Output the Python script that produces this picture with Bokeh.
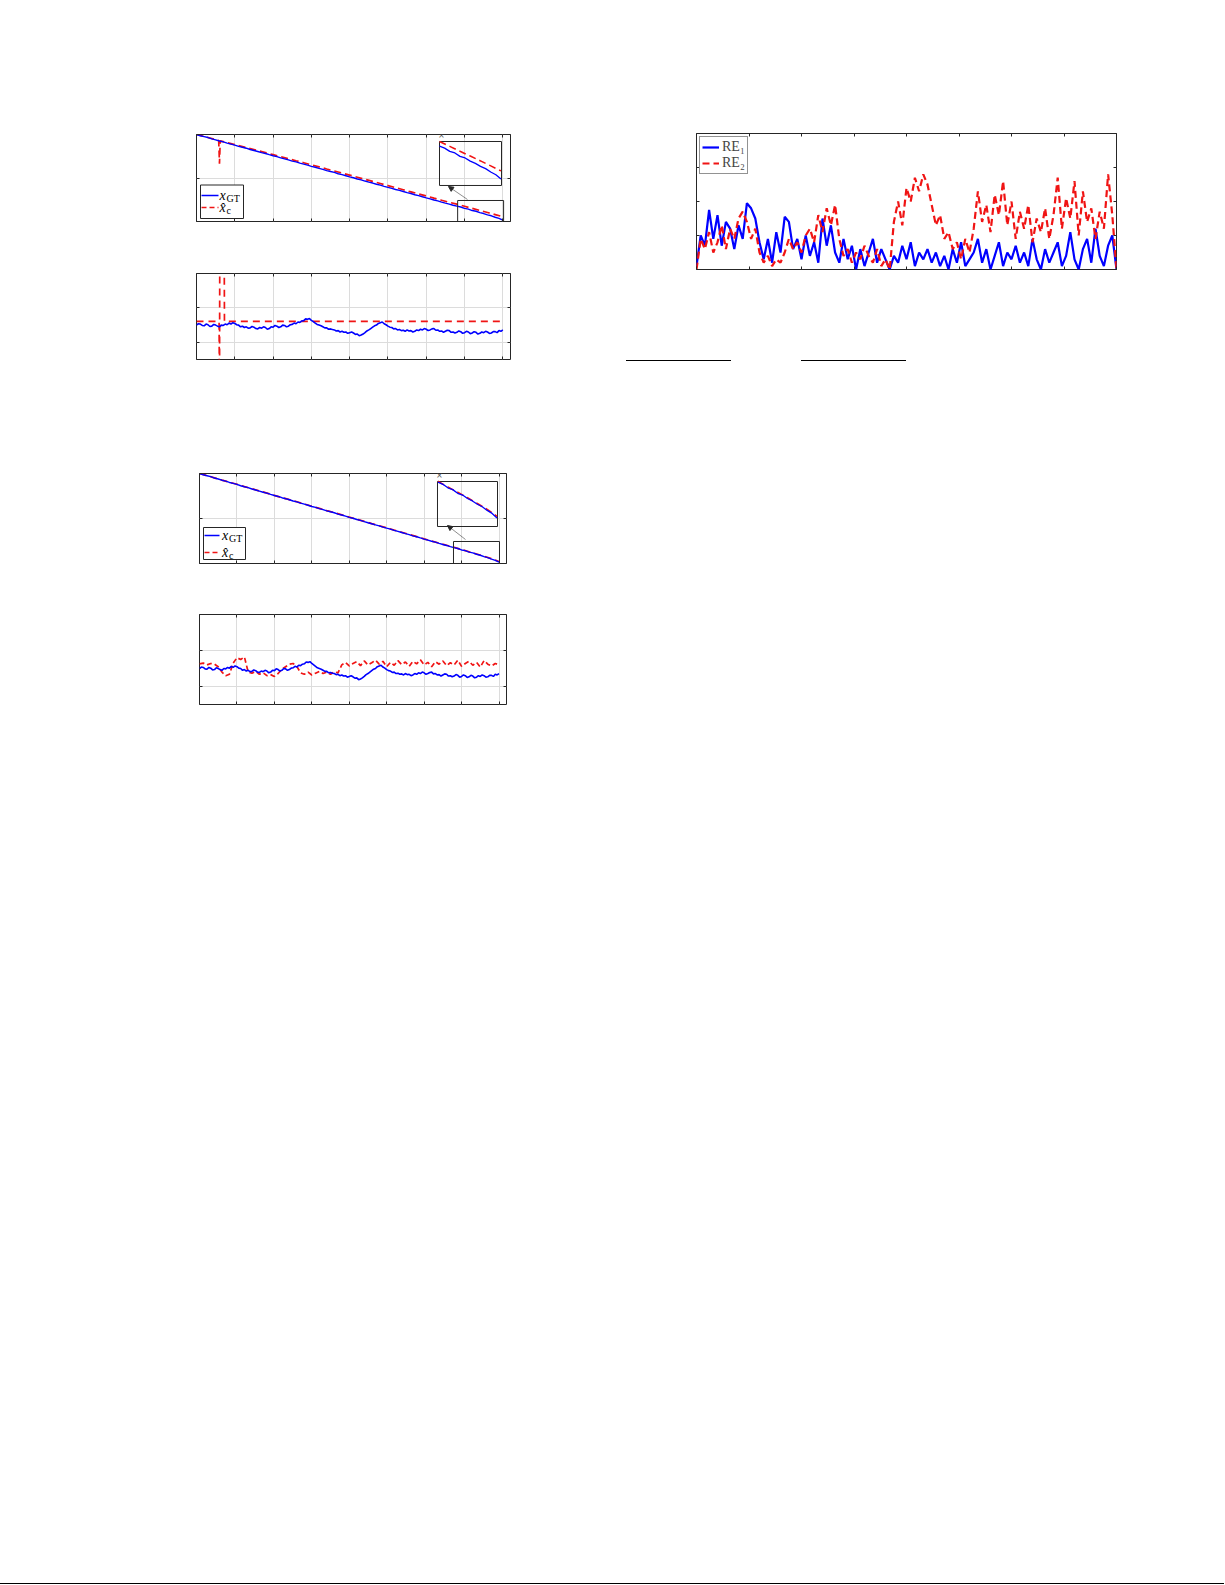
import numpy as np
from bokeh.plotting import figure
from bokeh.models import (Range1d, FixedTicker, LinearAxis, CustomJSTickFormatter,
                          Label, Arrow, NormalHead, Spacer, Div, Legend, LegendItem)
from bokeh.layouts import row, column
from bokeh.embed import file_html
from bokeh.resources import INLINE
from bokeh.core.properties import value

BLUE = "#0000ff"
RED = "#f01414"
GRID = "#dcdcdc"
SERIF = "Liberation Serif"

# ---------------- data ----------------
# position trajectories (plots 1 and 3)
T_POS = list(range(0, 81))
X_GT = [2.000, 1.972, 1.951, 1.930, 1.899, 1.878, 1.851, 1.830, 1.801, 1.779,
        1.757, 1.728, 1.706, 1.685, 1.655, 1.633, 1.610, 1.583, 1.563, 1.536,
        1.511, 1.490, 1.462, 1.440, 1.416, 1.389, 1.370, 1.341, 1.318, 1.295,
        1.267, 1.247, 1.220, 1.198, 1.171, 1.149, 1.128, 1.098, 1.078, 1.052,
        1.026, 1.006, 0.977, 0.957, 0.930, 0.906, 0.884, 0.857, 0.836, 0.809,
        0.785, 0.763, 0.736, 0.715, 0.689, 0.663, 0.643, 0.615, 0.594, 0.568,
        0.543, 0.521, 0.494, 0.474, 0.446, 0.423, 0.401, 0.374, 0.352, 0.333,
        0.301, 0.285, 0.252, 0.236, 0.205, 0.183, 0.153, 0.131, 0.098, 0.071,
        0.030]
T_XC1 = [0, 2, 4, 5.8, 5.9, 6.0, 6.1, 6.2] + list(range(8, 81, 2))
X_C1 = [2.000, 1.955, 1.907, 1.862, 1.600, 1.330, 1.600, 1.855,
        1.812, 1.766, 1.721, 1.676, 1.630, 1.584, 1.537, 1.490, 1.444, 1.397,
        1.351, 1.303, 1.256, 1.208, 1.161, 1.114, 1.066, 1.018, 0.970, 0.922,
        0.874, 0.826, 0.778, 0.730, 0.682, 0.634, 0.586, 0.537, 0.489, 0.442,
        0.398, 0.350, 0.302, 0.255, 0.207, 0.158, 0.109]
T_XC2 = list(range(0, 81, 2))
X_C2 = [2.000, 1.953, 1.902, 1.853, 1.806, 1.760, 1.708, 1.660, 1.612, 1.565,
        1.514, 1.465, 1.418, 1.372, 1.322, 1.272, 1.224, 1.176, 1.130, 1.081,
        1.031, 0.982, 0.935, 0.887, 0.840, 0.790, 0.741, 0.694, 0.646, 0.598,
        0.548, 0.499, 0.452, 0.406, 0.360, 0.308, 0.262, 0.212, 0.160, 0.107,
        0.045]

# heading-like traces (plots 2 and 4)
H_GT = [-0.50, -0.46, -0.47, -0.51, -0.52, -0.47, -0.49, -0.54, -0.53, -0.48,
        -0.50, -0.53, -0.55, -0.50, -0.51, -0.47, -0.49, -0.44, -0.47, -0.43,
        -0.45, -0.49, -0.50, -0.55, -0.53, -0.57, -0.55, -0.59, -0.58, -0.54,
        -0.56, -0.60, -0.61, -0.57, -0.59, -0.55, -0.57, -0.62, -0.60, -0.55,
        -0.56, -0.51, -0.53, -0.57, -0.55, -0.50, -0.51, -0.55, -0.53, -0.49,
        -0.48, -0.44, -0.46, -0.41, -0.42, -0.38, -0.37, -0.32, -0.33, -0.31,
        -0.36, -0.40, -0.44, -0.48, -0.50, -0.52, -0.55, -0.58, -0.58, -0.62,
        -0.61, -0.63, -0.64, -0.67, -0.66, -0.70, -0.68, -0.71, -0.70, -0.74,
        -0.72, -0.70, -0.73, -0.77, -0.76, -0.81, -0.79, -0.76, -0.72, -0.67,
        -0.64, -0.60, -0.56, -0.52, -0.50, -0.45, -0.43, -0.41, -0.46, -0.49,
        -0.53, -0.56, -0.57, -0.61, -0.60, -0.64, -0.63, -0.66, -0.65, -0.68,
        -0.64, -0.67, -0.66, -0.70, -0.68, -0.64, -0.66, -0.62, -0.64, -0.60,
        -0.62, -0.66, -0.64, -0.61, -0.60, -0.65, -0.64, -0.68, -0.67, -0.71,
        -0.68, -0.65, -0.66, -0.71, -0.70, -0.73, -0.71, -0.67, -0.69, -0.74,
        -0.72, -0.68, -0.70, -0.75, -0.73, -0.69, -0.71, -0.76, -0.74, -0.70,
        -0.72, -0.68, -0.70, -0.74, -0.73, -0.69, -0.69, -0.72, -0.66, -0.68,
        -0.64]
T_HGT = [0.5 * i for i in range(len(H_GT))]
T_HC1 = [0, 5.9, 6.0, 6.1, 7.2, 7.3, 80]
H_C1 = [-0.39, -0.39, -3.0, 3.0, 3.0, -0.39, -0.39]
H_C2 = [-0.37, -0.35, -0.40, -0.36, -0.38, -0.45, -0.60, -0.70, -0.66, -0.35,
        -0.20, -0.25, -0.18, -0.60, -0.63, -0.58, -0.66, -0.62, -0.70, -0.67,
        -0.72, -0.64, -0.52, -0.45, -0.38, -0.36, -0.44, -0.62, -0.66, -0.60,
        -0.68, -0.63, -0.58, -0.64, -0.60, -0.66, -0.59, -0.62, -0.40, -0.33,
        -0.43, -0.36, -0.31, -0.42, -0.29, -0.40, -0.34, -0.27, -0.38, -0.30,
        -0.45, -0.33, -0.41, -0.28, -0.39, -0.32, -0.44, -0.30, -0.37, -0.26,
        -0.40, -0.33, -0.45, -0.31, -0.38, -0.29, -0.42, -0.34, -0.40, -0.27,
        -0.44, -0.36, -0.30, -0.41, -0.33, -0.46, -0.28, -0.38, -0.43, -0.36,
        -0.40]
T_HC2 = list(range(len(H_C2)))

# relative errors (right plot)
RE1 = [0.10, 1.00, 0.70, 1.75, 0.90, 1.60, 0.70, 1.40, 1.20, 0.60,
       1.30, 0.90, 1.95, 1.80, 1.50, 0.80, 0.30, 0.90, 0.20, 1.10,
       0.50, 1.55, 1.40, 0.60, 0.90, 0.30, 1.00, 0.40, 0.80, 0.20,
       1.50, 0.70, 1.30, 0.50, 0.20, 0.90, 0.30, 0.70, 0.00, 0.60,
       0.10, 0.50, 0.90, 0.20, 0.60, 0.30, 0.00, 0.40, 0.20, 0.70,
       0.30, 0.80, 0.10, 0.50, 0.30, 0.60, 0.20, 0.50, 0.10, 0.40,
       0.00, 0.60, 0.20, 0.80, 0.10, 0.30, 0.50, 0.90, 0.20, 0.60,
       0.00, 0.40, 0.80, 0.10, 0.50, 0.30, 0.70, 0.20, 0.50, 0.10,
       0.90, 0.30, 0.00, 0.60, 0.20, 0.50, 0.80, 0.10, 0.40, 1.10,
       0.30, 0.00, 0.60, 0.90, 0.20, 1.20, 0.40, 0.10, 0.70, 1.00,
       0.00]
RE2 = [0.00, 0.90, 0.60, 1.10, 0.50, 0.80, 1.30, 0.60, 1.20, 0.90,
       1.50, 1.70, 1.40, 0.90, 1.20, 0.50, 0.20, 0.40, 0.10, 0.30,
       0.20, 0.50, 0.90, 0.60, 0.80, 0.50, 1.00, 1.20, 0.80, 1.60,
       1.10, 1.80, 1.30, 1.90, 0.90, 0.40, 0.60, 0.20, 0.50, 0.30,
       0.70, 0.40, 0.20, 0.60, 0.10, 0.30, 0.00, 1.40, 2.00, 1.30,
       2.40, 2.00, 2.70, 2.30, 2.80, 2.50, 1.90, 1.30, 1.60, 0.90,
       1.10, 0.60, 0.80, 0.30, 0.90, 0.50, 1.20, 2.30, 1.40, 1.90,
       1.10, 2.20, 1.60, 2.60, 1.30, 2.00, 0.90, 1.70, 1.20, 1.90,
       0.80, 1.50, 1.10, 1.80, 0.90, 1.60, 2.70, 1.20, 2.10, 1.50,
       2.60, 1.00, 2.30, 1.40, 1.80, 0.90, 1.70, 1.20, 2.80, 1.60,
       0.00]
T_RE1 = [round(0.08 * i, 2) for i in range(len(RE1))]
T_RE2 = [round(0.08 * i, 2) for i in range(len(RE2))]

# ticks
T_TICKS = [0, 10, 20, 30, 40, 50, 60, 70, 80]
POS_TICKS = [0, 1, 2]
ANG_TICKS = [-1, 0, 1]
RE_X_TICKS = [0, 1, 2, 3, 4, 5, 6, 7, 8]
RE_Y_TICKS = [0, 1, 2, 3, 4]

LEG_POS = ["x", "x\u0302"]
LEG_SUB = ["GT", "c"]
LEG_RE = ["RE\u2081", "RE\u2082"]

B = 12  # border around every frame
INFO = {}


def style_axis(ax, ticks):
    ax.ticker = FixedTicker(ticks=ticks)
    ax.formatter = CustomJSTickFormatter(code="return ''")
    ax.major_label_text_font_size = "1px"
    ax.major_label_standoff = 0
    ax.major_tick_in = 3
    ax.major_tick_out = 0
    ax.minor_tick_in = 0
    ax.minor_tick_out = 0
    ax.axis_line_color = None
    ax.major_tick_line_color = "#262626"


def make_fig(fw, fh, xr, yr, xticks, yticks, grid=True):
    p = figure(frame_width=fw, frame_height=fh,
               x_range=Range1d(*xr), y_range=Range1d(*yr),
               output_backend="svg", toolbar_location=None,
               min_border_left=B, min_border_right=B,
               min_border_top=B, min_border_bottom=B,
               background_fill_color="white", border_fill_color="white")
    p.add_layout(LinearAxis(), "above")
    p.add_layout(LinearAxis(), "right")
    for ax in p.xaxis:
        style_axis(ax, xticks)
    for ax in p.yaxis:
        style_axis(ax, yticks)
    p.outline_line_color = "#262626"
    p.outline_line_width = 1
    p.outline_line_alpha = 1
    p.xgrid.ticker = FixedTicker(ticks=xticks)
    p.ygrid.ticker = FixedTicker(ticks=yticks)
    if grid:
        p.xgrid.grid_line_color = GRID
        p.ygrid.grid_line_color = GRID
    else:
        p.xgrid.grid_line_color = None
        p.ygrid.grid_line_color = None
    INFO[p.id] = (xr, yr, fw, fh)
    return p


def px(p, fx, fy):
    (x0, x1), (y0, y1), fw, fh = INFO[p.id]
    return x0 + fx * (x1 - x0) / fw, y1 - fy * (y1 - y0) / fh


def times_label(p, x, y):
    p.add_layout(Label(x=x, y=y, text="\u00d7", text_font_size="10px",
                       text_color="#555555", text_baseline="bottom",
                       text_align="left", x_offset=-1, y_offset=1))


def pos_legend(p, box, rows, samp, txt):
    l, t = px(p, box[0], box[1])
    r, b = px(p, box[2], box[3])
    p.quad(left=[l], right=[r], bottom=[b], top=[t], fill_color="white",
           line_color="#262626", line_width=1)
    styles = [dict(line_color=BLUE, line_width=1.3, line_dash="solid"),
              dict(line_color=RED, line_width=1.5, line_dash="5 3")]
    for i, ry in enumerate(rows):
        xa, ya = px(p, samp[0], ry)
        xb, _ = px(p, samp[1], ry)
        p.segment(x0=[xa], y0=[ya], x1=[xb], y1=[ya], **styles[i])
        xt, yt = px(p, txt, ry)
        p.text(x=[xt], y=[yt], text=[LEG_POS[i]], text_font=value(SERIF),
               text_font_style="italic", text_font_size="14px",
               text_baseline="middle", text_align="left", text_color="black")
        xs, ys = px(p, txt + 7, ry + 3)
        p.text(x=[xs], y=[ys], text=[LEG_SUB[i]], text_font=value(SERIF),
               text_font_size="10px", text_baseline="middle",
               text_align="left", text_color="black")


def add_inset(p, src_x, src_y, tgt_x, tgt_y, t_b, y_b, t_r, y_r, rect, arrow, dash):
    p.quad(left=[tgt_x[0]], right=[tgt_x[1]], bottom=[tgt_y[0]], top=[tgt_y[1]],
           fill_color=None, line_color="#262626", line_width=1)
    sub = p.subplot(x_source=Range1d(*src_x), y_source=Range1d(*src_y),
                    x_target=Range1d(*tgt_x), y_target=Range1d(*tgt_y))
    tb = [t for t in t_b if t >= src_x[0]]
    yb = [y for t, y in zip(t_b, y_b) if t >= src_x[0]]
    tr = [t for t in t_r if t >= src_x[0]]
    yrr = [y for t, y in zip(t_r, y_r) if t >= src_x[0]]
    sub.line(tr, yrr, line_color=RED, line_width=1.6, line_dash=dash)
    sub.line(tb, yb, line_color=BLUE, line_width=1.3)
    p.quad(left=[rect[0]], right=[rect[1]], bottom=[rect[2]], top=[rect[3]],
           fill_color=None, line_color="#262626", line_width=1)
    p.add_layout(Arrow(end=NormalHead(size=5, fill_color="#262626", line_color="#262626"),
                       x_start=arrow[0], y_start=arrow[1], x_end=arrow[2], y_end=arrow[3],
                       line_width=0.6, line_color="#404040"))
    times_label(p, tgt_x[0], tgt_y[1])


# ---------------- plot 1 ----------------
p1 = make_fig(314, 87, (0, 82), (0, 2), T_TICKS, POS_TICKS)
p1.line(T_XC1, X_C1, line_color=RED, line_width=1.7, line_dash="7 4")
p1.line(T_POS, X_GT, line_color=BLUE, line_width=1.4)
times_label(p1, 0, 2)
add_inset(p1, (68.0, 80.1), (-0.035, 0.398), (63.46, 79.65), (0.828, 1.839),
          T_POS, X_GT, T_XC1, X_C1, (68.2, 80.2, -0.02, 0.483),
          (70.77, 0.506, 65.8, 0.805), "7 4")
pos_legend(p1, (4, 50.5, 47, 84), (61, 73), (5, 22), 23)

# ---------------- plot 2 ----------------
p2 = make_fig(314, 86, (0, 82), (-1.5, 1), T_TICKS, ANG_TICKS)
p2.line(T_HC1, H_C1, line_color=RED, line_width=1.7, line_dash="7 5")
p2.line(T_HGT, H_GT, line_color=BLUE, line_width=1.6)

# ---------------- plot 3 ----------------
p3 = make_fig(307, 90, (0, 82), (0, 2), T_TICKS, POS_TICKS)
p3.line(T_XC2, X_C2, line_color=RED, line_width=1.7, line_dash="7 4")
p3.line(T_POS, X_GT, line_color=BLUE, line_width=1.4)
times_label(p3, 0, 2)
add_inset(p3, (67.9, 80.1), (-0.047, 0.358), (63.57, 79.6), (0.822, 1.822),
          T_POS, X_GT, T_XC2, X_C2, (67.84, 80.13, -0.01, 0.489),
          (71.05, 0.533, 66.24, 0.844), "7 4")
pos_legend(p3, (4, 54, 46, 86), (62, 79), (5, 20), 22.5)

# ---------------- plot 4 ----------------
p4 = make_fig(307, 90, (0, 82), (-1.5, 1), T_TICKS, ANG_TICKS)
p4.line(T_HC2, H_C2, line_color=RED, line_width=1.7, line_dash="5 3")
p4.line(T_HGT, H_GT, line_color=BLUE, line_width=1.6)

# ---------------- plot 5 ----------------
p5 = make_fig(420, 136, (0, 8), (0, 4), RE_X_TICKS, RE_Y_TICKS, grid=False)
r1 = p5.line(T_RE1, RE1, line_color=BLUE, line_width=2.2)
r2 = p5.line(T_RE2, RE2, line_color=RED, line_width=2.2, line_dash="7 4")
times_label(p5, 0, 4)
leg = Legend(items=[LegendItem(label=LEG_RE[0], renderers=[r1]),
                    LegendItem(label=LEG_RE[1], renderers=[r2])],
             location="top_left", margin=3, padding=2, spacing=0,
             glyph_width=17, glyph_height=14, label_height=14,
             label_standoff=3, label_text_font=SERIF,
             label_text_font_size="14px", border_line_color="#262626",
             border_line_width=1, background_fill_alpha=1.0)
p5.add_layout(leg)

# ---------------- layout ----------------
def hline(w):
    return Div(text="", width=w, height=1, margin=0,
               styles={"background-color": "black"})

left_top = column(Spacer(width=1, height=1), p1, Spacer(width=1, height=28), p2)
right_top = column(row(Spacer(width=162, height=1), p5),
                   Spacer(width=1, height=79),
                   row(Spacer(width=104, height=1), hline(105),
                       Spacer(width=70, height=1), hline(105)))
band1 = row(Spacer(width=184, height=1), left_top, right_top)
band2 = row(Spacer(width=187, height=1),
            column(p3, Spacer(width=1, height=27), p4))
root = column(Spacer(width=1, height=121), band1,
              Spacer(width=1, height=90), band2,
              Spacer(width=1, height=867), hline(1224))

open("out.html", "w").write(file_html(root, INLINE))
